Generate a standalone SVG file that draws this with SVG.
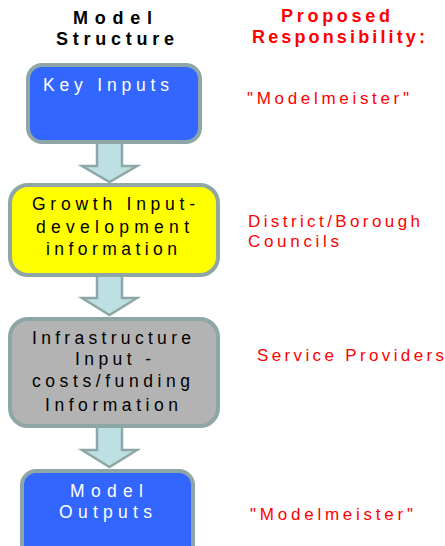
<svg xmlns="http://www.w3.org/2000/svg" width="445" height="546" viewBox="0 0 445 546">
<style>
.box{stroke:#8fa6a6;stroke-width:4}
.arr{fill:#bde0e3;stroke:#8fa6a6;stroke-width:2.5;stroke-linejoin:miter}
.hd{font-family:"Liberation Sans",Arial,sans-serif;font-weight:bold;font-size:18px}
.bk{fill:#000}
.red{fill:#ff0000}
.t{font-family:"Liberation Sans",Arial,sans-serif;font-size:17.5px}
.r{font-family:"Liberation Sans",Arial,sans-serif;font-size:17px}
.w{fill:#ffffff}
</style>
<rect width="445" height="546" fill="#ffffff"/>
<g id="headers">
<text class="hd bk" x="73" y="24" textLength="79" lengthAdjust="spacing">Model</text>
<text class="hd bk" x="56" y="45" textLength="118" lengthAdjust="spacing">Structure</text>
<text class="hd red" x="281" y="22" textLength="109" lengthAdjust="spacing">Proposed</text>
<text class="hd red" x="252" y="43" textLength="173" lengthAdjust="spacing">Responsibility:</text>
</g>
<g id="connectors">
<polygon class="arr" points="97,140 122,140 122,166 137,166 109.5,182 82,166 97,166"/>
<polygon class="arr" points="97,273 122,273 122,298 137,298 109.5,315 82,298 97,298"/>
<polygon class="arr" points="97,424 122,424 122,450 137,450 109.5,467 82,450 97,450"/>
</g>
<g id="key-inputs">
<rect class="box" x="28" y="65" width="172" height="77" rx="14" fill="#3366ff"/>
<text class="t w" x="43" y="91" textLength="126" lengthAdjust="spacing">Key Inputs</text>
</g>
<g id="growth">
<rect class="box" x="10" y="185" width="208" height="90" rx="18" fill="#ffff00"/>
<text class="t bk" x="32" y="210" textLength="163" lengthAdjust="spacing">Growth Input-</text>
<text class="t bk" x="36" y="233" textLength="153" lengthAdjust="spacing">development</text>
<text class="t bk" x="46" y="255" textLength="131" lengthAdjust="spacing">information</text>
</g>
<g id="infrastructure">
<rect class="box" x="10" y="319" width="208" height="107" rx="18" fill="#b3b3b3"/>
<text class="t bk" x="32" y="344" textLength="159" lengthAdjust="spacing">Infrastructure</text>
<text class="t bk" x="75" y="365" textLength="76" lengthAdjust="spacing">Input -</text>
<text class="t bk" x="32" y="387" textLength="158" lengthAdjust="spacing">costs/funding</text>
<text class="t bk" x="45" y="411" textLength="133" lengthAdjust="spacing">Information</text>
</g>
<g id="model-outputs">
<rect class="box" x="22" y="471" width="171" height="92" rx="14" fill="#3366ff"/>
<text class="t w" x="70" y="497" textLength="73" lengthAdjust="spacing">Model</text>
<text class="t w" x="59" y="518" textLength="93" lengthAdjust="spacing">Outputs</text>
</g>
<g id="responsibilities">
<text class="r red" x="247" y="104" textLength="162" lengthAdjust="spacing">"Modelmeister"</text>
<text class="r red" x="248" y="227" textLength="172" lengthAdjust="spacing">District/Borough</text>
<text class="r red" x="248" y="247" textLength="91" lengthAdjust="spacing">Councils</text>
<text class="r red" x="257" y="361" textLength="187" lengthAdjust="spacing">Service Providers</text>
<text class="r red" x="250" y="520" textLength="163" lengthAdjust="spacing">"Modelmeister"</text>
</g>
</svg>
